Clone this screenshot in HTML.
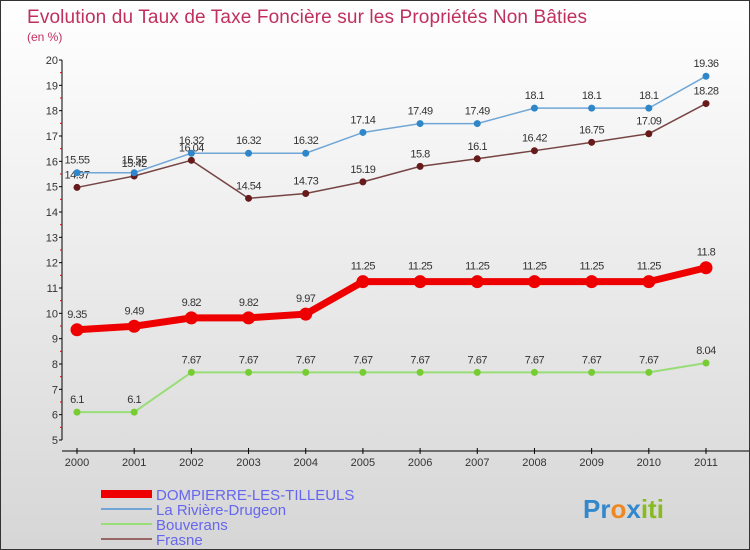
<!DOCTYPE html>
<html><head><meta charset="utf-8"><style>
body{margin:0}
#c{width:750px;height:550px;position:relative;box-sizing:border-box;border:1px solid #333;background:linear-gradient(#ffffff,#d6d6d6);font-family:"Liberation Sans",sans-serif;overflow:hidden}
svg text{font-family:"Liberation Sans",sans-serif}
</style></head><body>
<div id="c">
<svg id="s" width="750" height="550">
<text x="26" y="22" font-size="19" fill="#c0305e" textLength="560">Evolution du Taux de Taxe Foncière sur les Propriétés Non Bâties</text>
<text x="26" y="40" font-size="12" fill="#c0305e">(en %)</text>
<g id="axes"></g><g id="series"></g>
<g>
<rect x="100" y="489" width="51" height="8" fill="#e00"/>
<text x="155" y="499" font-size="15" fill="#6666ee">DOMPIERRE-LES-TILLEULS</text>
<rect x="100" y="507" width="51" height="2" fill="#6fa6d6"/>
<text x="155" y="514" font-size="15" fill="#6666ee">La Rivière-Drugeon</text>
<rect x="100" y="522" width="51" height="2" fill="#99dd77"/>
<text x="155" y="529" font-size="15" fill="#6666ee">Bouverans</text>
<rect x="100" y="537" width="51" height="2" fill="#996666"/>
<text x="155" y="544" font-size="15" fill="#6666ee">Frasne</text>
</g>
<text x="582" y="517" font-size="26" font-weight="bold"><tspan fill="#3388cc">Pr</tspan><tspan fill="#ee8822">o</tspan><tspan fill="#3388cc">x</tspan><tspan fill="#88bb22">iti</tspan></text>
</svg></div>
<script>
const years=[2000,2001,2002,2003,2004,2005,2006,2007,2008,2009,2010,2011];
const dompierre=[9.35,9.49,9.82,9.82,9.97,11.25,11.25,11.25,11.25,11.25,11.25,11.8];
const riviere=[15.55,15.55,16.32,16.32,16.32,17.14,17.49,17.49,18.1,18.1,18.1,19.36];
const bouverans=[6.1,6.1,7.67,7.67,7.67,7.67,7.67,7.67,7.67,7.67,7.67,8.04];
const frasne=[14.97,15.42,16.04,14.54,14.73,15.19,15.8,16.1,16.42,16.75,17.09,18.28];
const yTicks=[5,6,7,8,9,10,11,12,13,14,15,16,17,18,19,20];
const NS="http://www.w3.org/2000/svg";
const X=i=>76+i*(705-76)/11;
const Y=v=>439-(v-5)*(380/15);
function mk(t,a,p){const e=document.createElementNS(NS,t);for(const k in a)e.setAttribute(k,a[k]);p.appendChild(e);return e;}
const ax=document.getElementById('axes');
let e=mk('line',{x1:61,y1:59,x2:61,y2:439,stroke:'#000','stroke-width':1},ax);


e=mk('line',{x1:61,y1:450,x2:750,y2:450,stroke:'#000','stroke-width':1},ax);


yTicks.forEach(v=>{
 mk('line',{x1:58,x2:61,y1:Y(v),y2:Y(v),stroke:'#000'},ax);
 if(v<20)mk('line',{x1:59,x2:61,y1:Y(v+0.5),y2:Y(v+0.5),stroke:'#e00'},ax);
 const t=mk('text',{x:57,y:Y(v)+4,'font-size':11,fill:'#333','text-anchor':'end'},ax);t.textContent=v;
 
 
});
years.forEach((y,i)=>{
 mk('line',{x1:X(i),x2:X(i),y1:447,y2:453,stroke:'#000'},ax);
 const t=mk('text',{x:X(i),y:465,'font-size':11,fill:'#333','text-anchor':'middle'},ax);t.textContent=y;
 
 
});
const sg=document.getElementById('series');
function series(vals,name,col,dot,w,r,dy){
 const g=mk('g',{},sg);
 
 
 const pl=mk('polyline',{points:vals.map((v,i)=>X(i)+','+Y(v)).join(' '),fill:'none',stroke:col,'stroke-width':w},g);
 
 
 vals.forEach((v,i)=>{
  const c=mk('circle',{cx:X(i),cy:Y(v),r:r,fill:dot},g);
  
  
  const t=mk('text',{x:X(i),y:Y(v)+dy,'font-size':11,fill:'#333','text-anchor':'middle','letter-spacing':'-0.5'},g);t.textContent=v;
  
  
 });
}
series(bouverans,'bouverans','#99dd77','#77cc33',2,3.5,-9);
series(frasne,'frasne','#774444','#661a1a',1.5,3.5,-9);
series(riviere,'riviere','#6fa6d6','#2f86c8',1.5,3.5,-9);
series(dompierre,'dompierre','#ee0000','#ee0000',7,6.5,-12);
</script>
</body></html>
